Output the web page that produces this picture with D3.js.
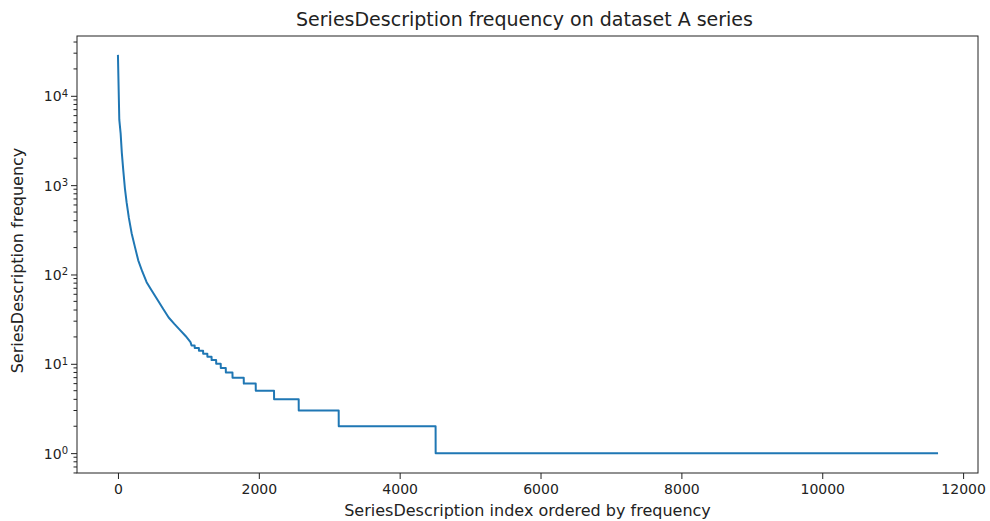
<!DOCTYPE html>
<html>
<head>
<meta charset="utf-8">
<script src="https://cdn.jsdelivr.net/npm/d3@7"></script>
<style>
  html, body { margin: 0; padding: 0; background: #fff; }
  svg { display: block; }
  text { font-family: "DejaVu Sans", sans-serif; fill: #222; }
</style>
</head>
<body>
<svg id="chart" width="990" height="521"></svg>
<script>
// ---- Data ----
// Smooth head of the sorted frequency curve: index -> frequency
const headIndex = [0, 19, 38, 55, 75, 100, 123, 155, 194, 240, 288, 345, 407, 470, 530, 590, 643, 720, 800, 879, 960, 1030];
const headFreq  = [28000, 5400, 3800, 2300, 1480, 900, 640, 430, 290, 205, 144, 108, 82, 68, 57, 48, 41, 33, 28, 24, 20.5, 17.5];
// Integer plateaus: frequency value and the index where it starts
const stepFreq  = [16, 15, 14, 13, 12, 11, 10, 9, 8, 7, 6, 5, 4, 3, 2, 1];
const stepStart = [1045, 1090, 1150, 1210, 1270, 1330, 1395, 1460, 1532, 1627, 1787, 1957, 2217, 2567, 3135, 4511];
const lastIndex = 11630;
// Tick labels
const xTicks = [0, 2000, 4000, 6000, 8000, 10000, 12000];
const yTickExp = [0, 1, 2, 3, 4];

const title = "SeriesDescription frequency on dataset A series";
const xLabel = "SeriesDescription index ordered by frequency";
const yLabel = "SeriesDescription frequency";

// ---- Build point list ----
const points = headIndex.map((d, i) => [d, headFreq[i]]);
stepFreq.forEach((v, i) => {
  const s = stepStart[i];
  const e = i < stepFreq.length - 1 ? stepStart[i + 1] - 1 : lastIndex;
  points.push([s, v]);
  points.push([e, v]);
});

// ---- Layout ----
const m = { left: 77, right: 978, top: 36, bottom: 473 };

const xMaxData = d3.max(points, d => d[0]);
const xMinData = d3.min(points, d => d[0]);
const xPad = 0.05 * (xMaxData - xMinData);
const x = d3.scaleLinear()
  .domain([xMinData - xPad, xMaxData + xPad])
  .range([m.left, m.right]);

const lyMax = Math.log10(d3.max(points, d => d[1]));
const lyMin = Math.log10(d3.min(points, d => d[1]));
const lyPad = 0.05 * (lyMax - lyMin);
const y = d3.scaleLog()
  .domain([Math.pow(10, lyMin - lyPad), Math.pow(10, lyMax + lyPad)])
  .range([m.bottom, m.top]);

const svg = d3.select("#chart");

// Data line
const line = d3.line().x(d => x(d[0])).y(d => y(d[1]));
svg.append("path")
  .datum(points)
  .attr("d", line)
  .attr("fill", "none")
  .attr("stroke", "#1f77b4")
  .attr("stroke-width", 2)
  .attr("stroke-linejoin", "round")
  .attr("stroke-linecap", "square");

// Frame
svg.append("rect")
  .attr("x", m.left).attr("y", m.top)
  .attr("width", m.right - m.left).attr("height", m.bottom - m.top)
  .attr("fill", "none").attr("stroke", "#222").attr("stroke-width", 1);

// X axis
const xAxis = d3.axisBottom(x).tickValues(xTicks).tickSize(6).tickPadding(5)
  .tickFormat(d3.format("d"));
const gx = svg.append("g").attr("transform", `translate(0,${m.bottom})`).call(xAxis);
gx.select(".domain").remove();
gx.selectAll(".tick line").attr("stroke", "#222");
gx.selectAll(".tick text").attr("font-size", 14).attr("fill", "#222")
  .attr("font-family", "DejaVu Sans, sans-serif");

// Y axis: major ticks with 10^n labels
const yMajor = yTickExp.map(e => Math.pow(10, e));
const yAxis = d3.axisLeft(y).tickValues(yMajor).tickSize(6).tickPadding(5).tickFormat("");
const gy = svg.append("g").attr("transform", `translate(${m.left},0)`).call(yAxis);
gy.select(".domain").remove();
gy.selectAll(".tick line").attr("stroke", "#222");
gy.selectAll(".tick").each(function(d, i) {
  const t = d3.select(this).append("text")
    .attr("x", -9).attr("dy", "0.35em")
    .attr("text-anchor", "end")
    .attr("font-size", 14).attr("fill", "#222")
    .attr("font-family", "DejaVu Sans, sans-serif");
  t.append("tspan").text("10");
  t.append("tspan").attr("dy", "-0.45em").attr("font-size", 10).text(String(yTickExp[i]));
});

// Y minor ticks
const [d0, d1] = y.domain();
const minor = [];
for (let e = Math.floor(Math.log10(d0)); e <= Math.ceil(Math.log10(d1)); e++) {
  for (let k = 2; k <= 9; k++) {
    const v = k * Math.pow(10, e);
    if (v >= d0 && v <= d1) minor.push(v);
  }
}
svg.append("g").selectAll("line").data(minor).join("line")
  .attr("x1", m.left - 3.5).attr("x2", m.left)
  .attr("y1", d => y(d)).attr("y2", d => y(d))
  .attr("stroke", "#222").attr("stroke-width", 1);

// Title and labels
svg.append("text")
  .attr("x", (m.left + m.right) / 2 - 3).attr("y", 26)
  .attr("text-anchor", "middle").attr("font-size", 19)
  .text(title);
svg.append("text")
  .attr("x", (m.left + m.right) / 2).attr("y", 516)
  .attr("text-anchor", "middle").attr("font-size", 16)
  .text(xLabel);
svg.append("text")
  .attr("transform", `translate(23,${(m.top + m.bottom) / 2 + 6}) rotate(-90)`)
  .attr("text-anchor", "middle").attr("font-size", 16)
  .text(yLabel);
</script>
</body>
</html>
